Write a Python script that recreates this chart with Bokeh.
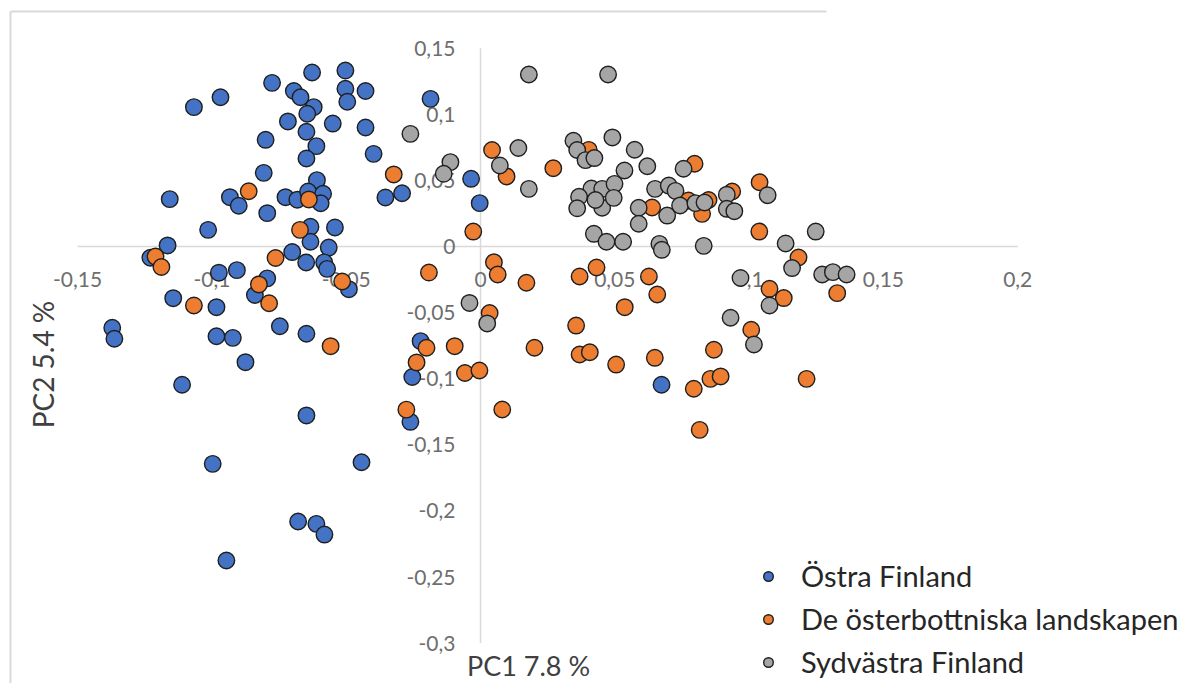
from bokeh.plotting import figure
from bokeh.models import Range1d, Label, Legend, LegendItem
from bokeh.core.properties import value
from bokeh.embed import file_html
from bokeh.resources import INLINE
import math

# ---------------- data ----------------
series_names = ["Östra Finland", "De österbottniska landskapen", "Sydvästra Finland"]
series_colors = ["#4472C4", "#ED7D31", "#A5A5A5"]

ostra_x = [-0.0627, -0.0503, -0.0776, -0.0695, -0.0670, -0.0503, -0.0428, -0.0496, -0.0968, -0.1067,
           -0.0621, -0.0645, -0.0186, -0.0717, -0.0550, -0.0648, -0.0428, -0.0800, -0.0611, -0.0398,
           -0.0648, -0.0807, -0.0609, -0.0035, -0.0003, -0.1157, -0.0933, -0.0900, -0.0726, -0.0682,
           -0.0642, -0.0586, -0.0595, -0.0354, -0.0292, -0.0794, -0.1014, -0.0633, -0.0542, -0.0633,
           -0.0565, -0.1165, -0.0701, -0.0649, -0.0582, -0.0571, -0.1229, -0.0974, -0.0907, -0.0794,
           -0.0490, -0.1144, -0.0840, -0.0983, -0.1371, -0.1363, -0.0983, -0.0922, -0.0747, -0.0648,
           -0.0875, -0.1111, -0.0648, -0.0223, -0.0254, -0.0261, -0.0997, -0.0443, -0.0679, -0.0611,
           -0.0581, -0.0946, 0.0674]
ostra_y = [0.1316, 0.1331, 0.1238, 0.1176, 0.1129, 0.1193, 0.1176, 0.1095, 0.1129, 0.1054,
           0.1054, 0.1004, 0.1117, 0.0946, 0.0930, 0.0868, 0.0900, 0.0807, 0.0759, 0.0701,
           0.0666, 0.0557, 0.0502, 0.0512, 0.0328, 0.0358, 0.0373, 0.0308, 0.0373, 0.0354,
           0.0416, 0.0399, 0.0327, 0.0371, 0.0403, 0.0252, 0.0126, 0.0149, 0.0144, 0.0036,
           -0.0008, 0.0008, -0.0042, -0.0121, -0.0120, -0.0169, -0.0085, -0.0198, -0.0179, -0.0241,
           -0.0323, -0.0391, -0.0367, -0.0459, -0.0615, -0.0698, -0.0679, -0.0691, -0.0603, -0.0660,
           -0.0875, -0.1046, -0.1278, -0.0716, -0.0987, -0.1326, -0.1644, -0.1632, -0.2080, -0.2098,
           -0.2179, -0.2375, -0.1046]

ostb_x = [-0.0323, -0.0863, -0.0639, -0.0672, -0.0027, 0.0043, -0.1210, -0.1188, -0.0763, -0.0192,
          -0.0515, -0.0825, -0.1067, -0.0787, -0.0558, -0.0201, -0.0238, -0.0096, -0.0058, -0.0004,
          -0.0276, 0.0081, 0.0034, 0.0097, 0.0271, 0.0403, 0.0797, 0.0639, 0.0825, 0.0849,
          0.0937, 0.1039, 0.1038, 0.0050, 0.0064, 0.0171, 0.0369, 0.0432, 0.0627, 0.0658,
          0.0537, 0.0356, 0.0201, 0.0369, 0.0407, 0.0505, 0.0649, 0.0794, 0.0856, 0.0894,
          0.0869, 0.0816, 0.1184, 0.1076, 0.1129, 0.1008, 0.1214, 0.1328, 0.0774]
ostb_y = [0.0545, 0.0418, 0.0356, 0.0126, 0.0113, 0.0730, -0.0076, -0.0155, -0.0087, -0.0197,
          -0.0265, -0.0287, -0.0446, -0.0429, -0.0754, -0.0766, -0.0877, -0.0754, -0.0957, -0.0938,
          -0.1234, -0.1233, -0.0503, 0.0530, 0.0592, 0.0731, 0.0626, 0.0295, 0.0247, 0.0352,
          0.0416, 0.0486, 0.0113, -0.0119, -0.0212, -0.0274, -0.0227, -0.0159, -0.0227, -0.0363,
          -0.0459, -0.0598, -0.0766, -0.0817, -0.0800, -0.0893, -0.0842, -0.1076, -0.1001, -0.0983,
          -0.0781, -0.1387, -0.0083, -0.0320, -0.0390, -0.0630, -0.1001, -0.0353, 0.0348]

syd_x = [-0.0261, -0.0112, -0.0137, 0.0180, 0.0475, 0.0141, 0.0072, 0.0180, 0.0346, 0.0360,
         0.0391, 0.0424, 0.0491, 0.0574, 0.0621, 0.0536, 0.0756, 0.0413, 0.0453, 0.0499,
         0.0367, 0.0360, 0.0453, 0.0496, 0.0428, 0.0650, 0.0701, 0.0726, 0.0589, 0.0695,
         0.0743, 0.0589, 0.0800, 0.0834, 0.0917, 0.0917, 0.0945, 0.1069, 0.0422, 0.0469,
         0.0531, 0.0666, 0.0675, 0.0831, 0.1136, 0.1248, 0.1160, 0.0968, 0.1272, 0.1312,
         0.1363, -0.0041, 0.0025, 0.1076, 0.0931, 0.1018]
syd_y = [0.0852, 0.0638, 0.0550, 0.1301, 0.1301, 0.0745, 0.0613, 0.0436, 0.0800, 0.0730,
         0.0653, 0.0669, 0.0825, 0.0732, 0.0607, 0.0575, 0.0588, 0.0439, 0.0436, 0.0474,
         0.0376, 0.0289, 0.0293, 0.0368, 0.0352, 0.0436, 0.0461, 0.0421, 0.0293, 0.0234,
         0.0310, 0.0172, 0.0328, 0.0333, 0.0392, 0.0285, 0.0267, 0.0388, 0.0096, 0.0036,
         0.0036, 0.0020, -0.0025, 0.0005, 0.0023, 0.0113, -0.0163, -0.0238, -0.0212, -0.0194,
         -0.0212, -0.0427, -0.0582, -0.0446, -0.0539, -0.0741]

x_ticks = [-0.15, -0.1, -0.05, 0, 0.05, 0.1, 0.15, 0.2]
x_tick_labels = ["-0,15", "-0,1", "-0,05", "0", "0,05", "0,1", "0,15", "0,2"]
y_ticks = [0.15, 0.1, 0.05, 0, -0.05, -0.1, -0.15, -0.2, -0.25, -0.3]
y_tick_labels = ["0,15", "0,1", "0,05", "0", "-0,05", "-0,1", "-0,15", "-0,2", "-0,25", "-0,3"]
x_title = "PC1 7.8 %"
y_title = "PC2 5.4 %"

# ---------------- geometry ----------------
W, H = 1183, 683
SX, SY = 2686.0, 1322.0          # pixels per data unit
ORIG_PX, ORIG_PY = 480.0, 246.0  # canvas position of (0, 0)
x0 = -ORIG_PX / SX
x1 = x0 + W / SX
y1 = ORIG_PY / SY
y0 = y1 - H / SY

def dx(px):  # canvas px -> data x (decoration only)
    return (px - ORIG_PX) / SX

def dy(py):
    return (ORIG_PY - py) / SY

p = figure(width=W, height=H, x_range=Range1d(x0, x1), y_range=Range1d(y0, y1),
           output_backend="svg", toolbar_location=None, min_border=0,
           x_axis_location=None, y_axis_location=None)
p.title.visible = False
p.xgrid.visible = False
p.ygrid.visible = False
p.outline_line_color = None
p.background_fill_color = "white"
p.border_fill_color = "white"

FONT = "Lato"
AX_COL = "#D9D9D9"
TXT_COL = "#6E6E6E"

# chart frame (partial light border)
p.segment(x0=[dx(10), dx(10)], y0=[dy(11), dy(11)], x1=[dx(826), dx(10)], y1=[dy(11), dy(700)],
          line_color=AX_COL, line_width=2)

# axis lines crossing at origin
p.segment(x0=[min(x_ticks), 0], y0=[0, min(y_ticks)], x1=[max(x_ticks), 0], y1=[0, max(y_ticks)],
          line_color=AX_COL, line_width=1.5)

# tick labels
p.text(x=x_ticks, y=[0] * len(x_ticks), text=x_tick_labels, y_offset=33,
       text_align="center", text_baseline="middle", text_font=value(FONT),
       text_font_size="21px", text_color=TXT_COL)
p.text(x=[0] * len(y_ticks), y=y_ticks, text=y_tick_labels, x_offset=-25,
       text_align="right", text_baseline="middle", text_font=value(FONT),
       text_font_size="21px", text_color=TXT_COL)

# scatter series
renderers = []
for xs, ys, col in [(ostra_x, ostra_y, series_colors[0]),
                    (ostb_x, ostb_y, series_colors[1]),
                    (syd_x, syd_y, series_colors[2])]:
    r = p.scatter(xs, ys, size=16.5, fill_color=col, line_color="#1F1F1F", line_width=1.4)
    renderers.append(r)

# axis titles
p.add_layout(Label(x=42, y=H - 364, x_units="screen", y_units="screen", text=y_title,
                   angle=math.pi / 2, text_align="center", text_baseline="middle",
                   text_font=FONT, text_font_size="28px", text_color="#404040"))
p.add_layout(Label(x=528, y=2, x_units="screen", y_units="screen", text=x_title,
                   text_align="center", text_baseline="bottom",
                   text_font=FONT, text_font_size="27px", text_color="#404040"))

legend = Legend(items=[LegendItem(label=n, renderers=[r]) for n, r in zip(series_names, renderers)],
                location=(756, 4), orientation="vertical",
                glyph_width=24, glyph_height=30, spacing=8, padding=0, margin=0,
                label_standoff=21, label_text_font=FONT, label_text_font_size="29px",
                label_text_color="#262626", label_text_baseline="middle",
                border_line_color=None, background_fill_alpha=0)
p.add_layout(legend, "center")

open("out.html", "w").write(file_html(p, INLINE))
